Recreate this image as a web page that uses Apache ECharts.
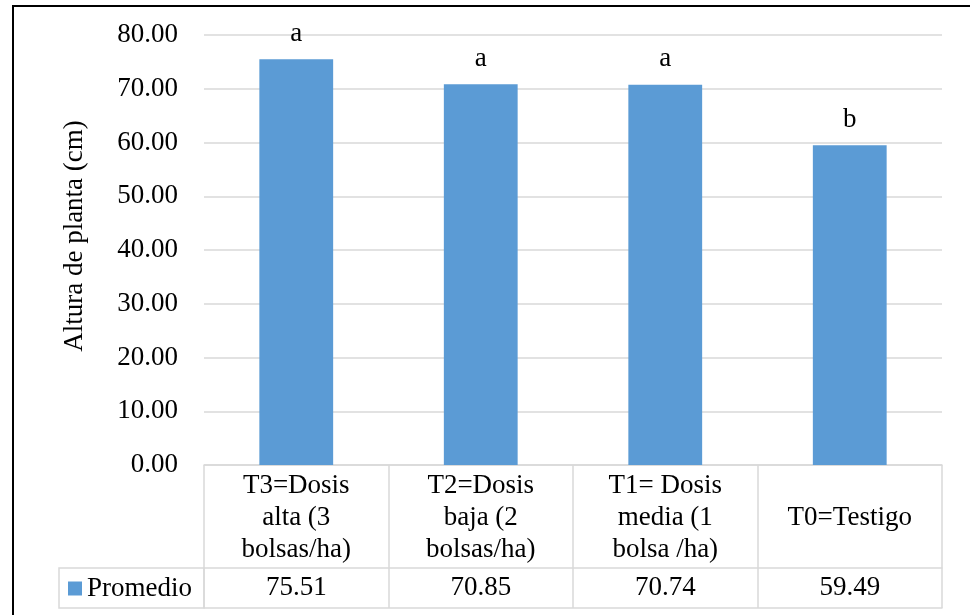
<!DOCTYPE html>
<html>
<head>
<meta charset="utf-8">
<script src="https://cdn.jsdelivr.net/npm/echarts@6/dist/echarts.min.js"></script>
<style>
  html, body { margin: 0; padding: 0; background: #fff; }
  #chart { width: 970px; height: 615px; }
</style>
</head>
<body>
<div id="chart"></div>
<script>
// datos del gráfico
const categories = [
  "T3=Dosis\nalta (3\nbolsas/ha)",
  "T2=Dosis\nbaja (2\nbolsas/ha)",
  "T1= Dosis\nmedia (1\nbolsa /ha)",
  "T0=Testigo"
];
const promedio = [75.51, 70.85, 70.74, 59.49];
const letras = ["a", "a", "a", "b"];
const yTicks = [0, 10, 20, 30, 40, 50, 60, 70, 80];

const FONT = "'Liberation Serif', 'DejaVu Serif'";
const FS = 27;
const GRIS = "#d9d9d9";

const chart = echarts.init(document.getElementById("chart"));

const option = {
  backgroundColor: "#ffffff",
  animation: false,
  textStyle: { fontFamily: FONT, color: "#000" },
  grid: {
    left: 204,
    right: 28,
    top: 35,
    bottom: 150,
    containLabel: false,
    outerBoundsMode: "none"
  },
  legend: {
    data: ["Promedio"],
    left: 68,
    top: 575,
    padding: 0,
    icon: "rect",
    itemWidth: 14,
    itemHeight: 14,
    textStyle: { fontFamily: FONT, fontSize: FS, color: "#000", lineHeight: 27 }
  },
  xAxis: [
    {
      type: "category",
      data: categories,
      position: "bottom",
      axisLine: { show: true, lineStyle: { color: GRIS, width: 1.5 } },
      axisTick: {
        show: true,
        interval: 0,
        alignWithLabel: false,
        length: 143,
        lineStyle: { color: GRIS, width: 1.5 }
      },
      axisLabel: {
        interval: 0,
        margin: 53,
        verticalAlign: "middle",
        lineHeight: 32,
        fontSize: FS,
        fontFamily: FONT,
        color: "#000"
      }
    },
    {
      // fila de valores de la tabla
      type: "category",
      data: promedio.map(v => v.toFixed(2)),
      position: "bottom",
      offset: 103,
      axisLine: { show: true, lineStyle: { color: GRIS, width: 1.5 } },
      axisTick: { show: false },
      axisLabel: {
        interval: 0,
        margin: 20,
        verticalAlign: "middle",
        fontSize: FS,
        fontFamily: FONT,
        color: "#000"
      }
    },
    {
      // borde inferior de la tabla
      type: "category",
      data: categories,
      position: "bottom",
      offset: 143,
      axisLine: { show: true, lineStyle: { color: GRIS, width: 1.5 } },
      axisTick: { show: false },
      axisLabel: { show: false }
    }
  ],
  yAxis: {
    type: "value",
    min: yTicks[0],
    max: yTicks[yTicks.length - 1],
    interval: 10,
    name: "Altura de planta (cm)",
    nameLocation: "middle",
    nameGap: 116,
    nameTextStyle: { fontFamily: FONT, fontSize: FS, color: "#000", padding: [0, 0, 0, 28] },
    axisLine: { show: false },
    axisTick: { show: false },
    axisLabel: {
      margin: 26,
      fontSize: FS,
      fontFamily: FONT,
      color: "#000",
      formatter: v => v.toFixed(2)
    },
    splitLine: { lineStyle: { color: GRIS, width: 1.5 } }
  },
  series: [
    {
      name: "Promedio",
      type: "bar",
      xAxisIndex: 0,
      data: promedio,
      barWidth: "40%",
      itemStyle: { color: "#5b9bd5" },
      label: {
        show: true,
        position: "top",
        distance: 12,
        fontSize: FS,
        fontFamily: FONT,
        color: "#000",
        formatter: p => letras[p.dataIndex]
      }
    }
  ],
  graphic: [
    {
      // marco exterior
      type: "rect",
      shape: { x: 13, y: 6, width: 1000, height: 700 },
      style: { fill: null, stroke: "#000", lineWidth: 2 },
      silent: true
    },
    {
      // celda de la leyenda
      type: "rect",
      shape: { x: 59, y: 568, width: 145, height: 40 },
      style: { fill: null, stroke: GRIS, lineWidth: 1.5 },
      silent: true
    }
  ]
};

chart.setOption(option);
</script>
</body>
</html>
